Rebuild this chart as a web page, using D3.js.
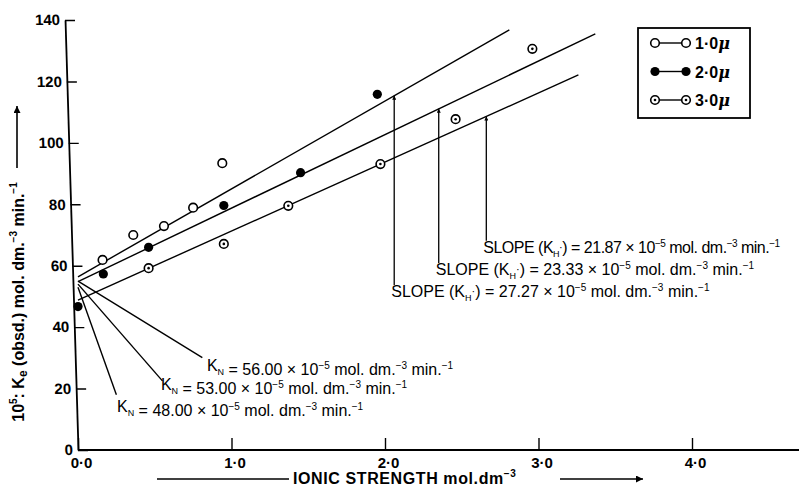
<!DOCTYPE html>
<html>
<head>
<meta charset="utf-8">
<script src="https://cdn.jsdelivr.net/npm/d3@7"></script>
<style>
  body { margin: 0; background: #fff; }
  svg { display: block; font-family: "Liberation Sans", Arial, sans-serif; }
</style>
</head>
<body>
<div id="chart"></div>
<script>
// ionic strength (mol dm-3) against 10^5 Ke
var open1 = [[0.16, 61.9], [0.36, 70.0], [0.56, 72.9], [0.75, 78.9], [0.94, 93.4]];
var filled2 = [[0.0, 46.7], [0.165, 57.3], [0.46, 66.0], [0.95, 79.6], [1.45, 90.3], [1.95, 115.8]];
var dotted3 = [[0.46, 59.2], [0.95, 67.1], [1.37, 79.5], [1.97, 93.1], [2.46, 107.7], [2.96, 130.6]];

// the three straight lines as drawn (start, end)
var lineTop = [[0, 56.4], [2.81, 136.8]];
var lineMid = [[0, 54.8], [3.37, 135.5]];
var lineLow = [[0, 48.8], [3.26, 122.1]];

var xTicks = [0, 1, 2, 3, 4];
var yTicks = [0, 20, 40, 60, 80, 100, 120, 140];
var legendLabels = ["1·0", "2·0", "3·0"];

// slope notes: arrow position, arrow foot, value
var slopeX = [2.06, 2.35, 2.66];
var slopeFoot = [53.7, 60.9, 68.1];
var slopeValues = ["27.27", "23.33", "21.87"];

// K_N notes: leader line from the intercept, label anchor, value
var knStart = [[0, 55], [0, 54], [0, 53]];
var knEnd = [[0.81, 30.1], [0.55, 22.5], [0.25, 18.0]];
var knLabelAt = [[0.84, 25.7], [0.54, 19.5], [0.254, 12.4]];
var knValues = ["56.00", "53.00", "48.00"];

var width = 799, height = 488;

var svg = d3.select("#chart").append("svg")
  .attr("width", width)
  .attr("height", height);

var x = d3.scaleLinear().domain([0, 4]).range([78, 692]);
var y = d3.scaleLinear().domain([0, 140]).range([450, 20]);
var line = d3.line().x(d => x(d[0])).y(d => y(d[1]));

var defs = svg.append("defs");
defs.append("marker")
  .attr("id", "thin")
  .attr("viewBox", "0 0 10 10")
  .attr("refX", 10).attr("refY", 5)
  .attr("markerUnits", "userSpaceOnUse")
  .attr("markerWidth", 8).attr("markerHeight", 4)
  .attr("orient", "auto")
  .append("path").attr("d", "M0,0L10,5L0,10z");
defs.append("marker")
  .attr("id", "wide")
  .attr("viewBox", "0 0 10 10")
  .attr("refX", 10).attr("refY", 5)
  .attr("markerUnits", "userSpaceOnUse")
  .attr("markerWidth", 11).attr("markerHeight", 7)
  .attr("orient", "auto")
  .append("path").attr("d", "M0,0L10,5L0,10z");

// x axis, ticks pointing up
var fmt = d => d3.format(".1f")(d).replace(".", "·");
var xAxis = svg.append("g")
  .attr("transform", "translate(0," + y(0) + ")")
  .call(d3.axisBottom(x).tickValues(xTicks).tickSizeInner(-12).tickSizeOuter(0).tickPadding(7).tickFormat(fmt));
xAxis.select(".domain").remove();
xAxis.append("line")
  .attr("x1", x(0)).attr("x2", width)
  .attr("stroke", "#000").attr("stroke-width", 1.8);
xAxis.attr("font-family", null).attr("font-size", 15).attr("font-weight", "bold");
xAxis.selectAll(".tick line").attr("stroke-width", 1.4);
xAxis.selectAll(".tick text").attr("dx", 3);

// y axis, the scanned axis leans a little
var yAxis = svg.append("g")
  .attr("transform", "translate(0," + y(0) + ") skewX(1.73) translate(" + x(0) + "," + (-y(0)) + ")")
  .call(d3.axisLeft(y).tickValues(yTicks).tickSizeInner(-10).tickSizeOuter(0).tickPadding(5));
yAxis.attr("font-family", null).attr("font-size", 15).attr("font-weight", "bold");
yAxis.select(".domain").attr("stroke-width", 1.8);
yAxis.selectAll(".tick line").attr("stroke-width", 1.4);

// fitted lines
[lineTop, lineMid, lineLow].forEach(function(l) {
  svg.append("path").datum(l)
    .attr("d", line)
    .attr("fill", "none")
    .attr("stroke", "#000")
    .attr("stroke-width", 1.4);
});

// K_N leader lines and labels
knStart.forEach(function(s, i) {
  svg.append("path").datum([s, knEnd[i]])
    .attr("d", line)
    .attr("stroke", "#000")
    .attr("stroke-width", 1.4);
});

function unitText(t, lead, value, sep) {
  // lead() writes the symbol, then the common tail
  lead(t);
  t.append("tspan").text(" = " + value + (sep || " ") + "× 10");
  t.append("tspan").attr("font-size", 10).attr("dy", -6).text("−5");
  t.append("tspan").attr("dy", 6).text(" mol. dm.");
  t.append("tspan").attr("font-size", 10).attr("dy", -6).text("−3");
  t.append("tspan").attr("dy", 6).text(" min.");
  t.append("tspan").attr("font-size", 10).attr("dy", -6).text("−1");
}

knValues.forEach(function(v, i) {
  var t = svg.append("text")
    .attr("x", x(knLabelAt[i][0]))
    .attr("y", y(knLabelAt[i][1]))
    .attr("font-size", 16);
  unitText(t, function(t) {
    t.append("tspan").text("K");
    t.append("tspan").attr("font-size", 9).attr("dy", 4).text("N");
    t.append("tspan").attr("dy", -4).text("");
  }, v);
});

// slope arrows and labels
var fits = [lineTop, lineMid, lineLow];
slopeX.forEach(function(sx, i) {
  var l = fits[i];
  var top = l[0][1] + (l[1][1] - l[0][1]) * (sx - l[0][0]) / (l[1][0] - l[0][0]);
  svg.append("path").datum([[sx, slopeFoot[i]], [sx, top]])
    .attr("d", line)
    .attr("stroke", "#000")
    .attr("stroke-width", 1.3)
    .attr("marker-end", "url(#thin)");
  var t = svg.append("text")
    .attr("x", x(sx) - 3)
    .attr("y", y(slopeFoot[i]) + 12)
    .attr("font-size", 16)
    .attr("letter-spacing", i === 2 ? -0.5 : null);
  unitText(t, function(t) {
    t.append("tspan").text("SLOPE (K");
    t.append("tspan").attr("font-size", 9).attr("dy", 4).text("H");
    t.append("tspan").attr("font-size", 11).attr("dy", -6).text("·");
    t.append("tspan").attr("dy", 2).text(")");
  }, slopeValues[i], i === 2 ? "" : " ");
});

// data points
function drawMarker(g, kind, cx, cy) {
  if (kind === "filled") {
    g.append("circle").attr("cx", cx).attr("cy", cy).attr("r", 4.6).attr("fill", "#000");
    return;
  }
  g.append("circle").attr("cx", cx).attr("cy", cy).attr("r", 4.3)
    .attr("fill", "#fff").attr("stroke", "#000").attr("stroke-width", 1.6);
  if (kind === "dotted") {
    g.append("circle").attr("cx", cx).attr("cy", cy).attr("r", 1.3).attr("fill", "#000");
  }
}

var series = [
  { pts: open1, kind: "open" },
  { pts: filled2, kind: "filled" },
  { pts: dotted3, kind: "dotted" }
];
series.forEach(function(s) {
  var g = svg.append("g");
  s.pts.forEach(function(p) { drawMarker(g, s.kind, x(p[0]), y(p[1])); });
});

// legend
var legend = svg.append("g").attr("transform", "translate(638,28)");
legend.append("rect")
  .attr("width", 112).attr("height", 90)
  .attr("fill", "#fff").attr("stroke", "#000").attr("stroke-width", 1.8);
legendLabels.forEach(function(lab, i) {
  var gy = 15 + i * 28.5;
  legend.append("line")
    .attr("x1", 17).attr("x2", 48).attr("y1", gy).attr("y2", gy)
    .attr("stroke", "#000").attr("stroke-width", 1.4);
  drawMarker(legend, series[i].kind, 17, gy);
  drawMarker(legend, series[i].kind, 48, gy);
  var t = legend.append("text")
    .attr("x", 57).attr("y", gy + 6)
    .attr("font-size", 16).attr("font-weight", "bold");
  t.append("tspan").text(lab);
  t.append("tspan").attr("font-style", "italic").attr("font-family", "DejaVu Serif").text("μ");
});

// y title
var yt = svg.append("text")
  .attr("transform", "translate(24,302) rotate(-90)")
  .attr("text-anchor", "middle")
  .attr("font-size", 16)
  .attr("font-weight", "bold");
yt.append("tspan").text("10");
yt.append("tspan").attr("font-size", 10).attr("dy", -7).text("5");
yt.append("tspan").attr("dy", 7).text(": K");
yt.append("tspan").attr("font-size", 12).attr("dy", 3).text("e");
yt.append("tspan").attr("dy", -3).text(" (obsd.) mol. dm.");
yt.append("tspan").attr("font-size", 10).attr("dy", -7).text("−3");
yt.append("tspan").attr("dy", 7).text(" min.");
yt.append("tspan").attr("font-size", 10).attr("dy", -7).text("−1");
svg.append("line")
  .attr("x1", 17).attr("x2", 17).attr("y1", 168).attr("y2", 106)
  .attr("stroke", "#000").attr("stroke-width", 1.6)
  .attr("marker-end", "url(#wide)");

// x title
svg.append("line")
  .attr("x1", 157).attr("x2", 289).attr("y1", 479).attr("y2", 479)
  .attr("stroke", "#000").attr("stroke-width", 1.6);
var xt = svg.append("text")
  .attr("x", 293).attr("y", 484)
  .attr("font-size", 16)
  .attr("letter-spacing", 0.6)
  .attr("font-weight", "bold");
xt.append("tspan").text("IONIC STRENGTH mol.dm");
xt.append("tspan").attr("font-size", 10).attr("dy", -7).text("−3");
svg.append("line")
  .attr("x1", 560).attr("x2", 643).attr("y1", 479).attr("y2", 479)
  .attr("stroke", "#000").attr("stroke-width", 1.6)
  .attr("marker-end", "url(#wide)");
</script>
</body>
</html>
